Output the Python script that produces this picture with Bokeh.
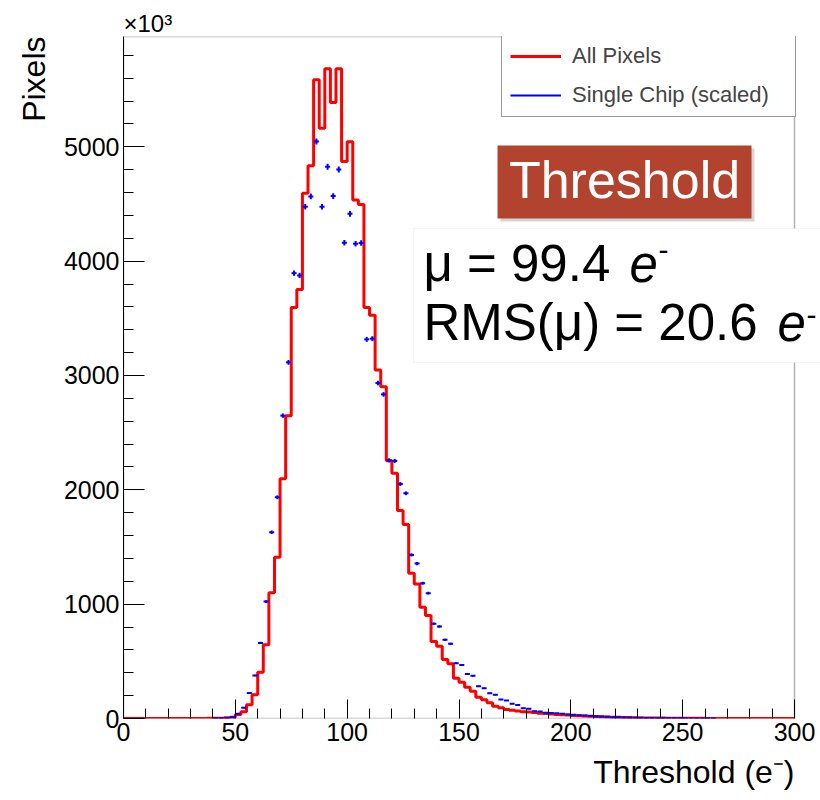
import numpy as np
from bokeh.plotting import figure
from bokeh.models import (Label, BoxAnnotation, Legend, LegendItem, FixedTicker,
                          Range1d, ColumnDataSource, Title)
from bokeh.embed import file_html
from bokeh.resources import INLINE

# ---------------- data ----------------
BIN_LO, BIN_HI, NBINS = 0.0, 300.0, 120

# All pixels histogram (counts per 2.5 e- bin)
all_pixels = [
    0, 0, 0, 0, 0, 0, 0, 0, 0, 0, 0, 0,            # 0 - 27.5
    1, 1, 1, 2, 2, 3, 6, 12,                        # 30 - 47.5
    35, 58, 120, 208, 405, 645, 1099, 1410,         # 50 - 67.5
    2098, 2649, 3595, 3753, 4595, 4834, 5586, 5163,  # 70 - 87.5
    5682, 5388, 5682, 4872, 5044, 4534, 4496, 3595,  # 90 - 107.5
    3528, 3048, 2902, 2255, 2144, 1820, 1696, 1270,  # 110 - 127.5
    1177, 973, 900, 673, 632, 516, 478, 352,         # 130 - 147.5
    317, 274, 239, 186, 163, 137, 108, 93,           # 150 - 167.5
    79, 72, 66, 60, 56, 52, 47, 44,                  # 170 - 187.5
    40, 36, 33, 30, 27, 24, 21, 19,                  # 190 - 207.5
    17, 15, 13, 11, 10, 9, 8, 7,                     # 210 - 227.5
    6, 5, 5, 4, 4, 3, 3, 3,                          # 230 - 247.5
    2, 2, 2, 2, 1, 1, 1, 1,                          # 250 - 267.5
    1, 1, 1, 1, 1, 1, 1, 1,                          # 270 - 287.5
    1, 1, 1, 1,                                      # 290 - 297.5
]

# Single chip (scaled), one value per bin centre
single_chip = [
    0, 0, 0, 0, 0, 0, 0, 0, 0, 0, 0, 0,
    0, 0, 0, 0, 2, 3, 5, 12,
    41, 93, 224, 376, 661, 1023, 1629, 1935,
    2649, 3115, 3895, 3875, 4476, 4566, 5047, 4476,
    4825, 4569, 4802, 4161, 4414, 4152, 4158, 3316,
    3322, 2934, 2835, 2258, 2253, 2051, 1970, 1431,
    1355, 1183, 1096, 828, 804, 688, 653, 484,
    469, 390, 373, 283, 265, 221, 207, 166,
    157, 128, 119, 90, 85, 64, 61, 50,
    48, 45, 42, 36, 33, 29, 26, 22,
    20, 17, 15, 12, 10, 8, 7, 6,
    5, 4, 4, 3, 3, 2, 2, 2,
    1, 1, 1, 1, 1, 1, 0, 0,
    0, 0, 0, 0, 0, 0, 0, 0,
    0, 0, 0, 0,
]

x_ticks = [0, 50, 100, 150, 200, 250, 300]
x_minor = [v for v in range(0, 301, 10) if v % 50]
y_ticks = [0, 1000, 2000, 3000, 4000, 5000]
y_minor = [v for v in range(0, 6000, 200) if v % 1000]
Y_MAX = 5965

legend_labels = ["All Pixels", "Single Chip (scaled)"]
box_title = "Threshold"
stat_mu = "μ = 99.4"
stat_rms = "RMS(μ) = 20.6"
x_title = "Threshold (e⁻)"
y_title = "Pixels"
y_exponent = "×10³"

# ---------------- figure ----------------
W, H = 820, 800
ML, MT, MB = 123, 36, 82
AXIS_W = 671                       # px spanned by BIN_LO..BIN_HI
FB = H - MB                        # frame bottom in canvas px
X_END = BIN_HI * (W - ML) / AXIS_W  # frame runs to the right edge (for the stats text)
BASE_FIX = 0.385                   # label baseline correction (em)

def sx(px):
    return px - ML

def sy(py):
    return FB - py

p = figure(width=W, height=H, output_backend="svg", toolbar_location=None,
           x_range=Range1d(BIN_LO, X_END), y_range=Range1d(0, Y_MAX),
           min_border_left=ML, min_border_right=0, min_border_top=MT,
           min_border_bottom=MB)
p.grid.visible = False
p.outline_line_color = None
p.background_fill_color = "white"
p.border_fill_color = "white"

for ax, ticks, minor, tin in ((p.xaxis[0], x_ticks, x_minor, 19),
                              (p.yaxis[0], y_ticks, y_minor, 21)):
    ax.ticker = FixedTicker(ticks=ticks, minor_ticks=minor)
    ax.major_tick_in = tin
    ax.major_tick_out = 0
    ax.minor_tick_in = 10
    ax.minor_tick_out = 0
    ax.axis_line_color = "black"
    ax.major_tick_line_color = "black"
    ax.minor_tick_line_color = "black"
    ax.major_label_text_font = "Liberation Sans"
    ax.major_label_text_font_size = "25px"
    ax.major_label_text_color = "black"
    ax.major_label_standoff = 4
p.xaxis[0].axis_line_color = None

# frame box over the histogram range
p.add_layout(BoxAnnotation(left=BIN_LO, right=BIN_HI, bottom=0, top=Y_MAX,
                           fill_alpha=0, line_color="black", line_width=1.5))

edges = np.linspace(BIN_LO, BIN_HI, NBINS + 1)
centers = 0.5 * (edges[:-1] + edges[1:])
vals = np.array(all_pixels, dtype=float)
step_y = np.append(vals, vals[-1])

r_red = p.step(x=edges, y=step_y, mode="after", line_color="#ff0000", line_width=3)

sc = np.array(single_chip, dtype=float)
m = sc > 0
cx = centers[m]
cy = sc[m]
err = np.sqrt(cy * 0.14)
half = 0.45 * (edges[1] - edges[0])
src_h = ColumnDataSource(dict(x0=cx - half, x1=cx + half, y=cy))
src_v = ColumnDataSource(dict(x=cx, y0=cy - err, y1=cy + err))
r_blue = p.segment(x0="x0", x1="x1", y0="y", y1="y", source=src_h,
                   line_color="#0000ff", line_width=2)
p.segment(x0="x", x1="x", y0="y0", y1="y1", source=src_v,
          line_color="#0000ff", line_width=2)

legend = Legend(items=[LegendItem(label=legend_labels[0], renderers=[r_red]),
                       LegendItem(label=legend_labels[1], renderers=[r_blue])],
                location=(sx(501), sy(116.7)),
                border_line_color="#333333", border_line_width=1,
                background_fill_color="white", background_fill_alpha=1,
                padding=8, margin=0, spacing=13,
                glyph_width=51, glyph_height=26, label_height=26,
                label_width=215, label_standoff=11,
                label_text_font="Liberation Sans", label_text_font_size="22px")
p.add_layout(legend, "center")

# Threshold tag
p.add_layout(BoxAnnotation(left=sx(500), right=sx(754), top=sy(148), bottom=sy(221),
                           left_units="screen", right_units="screen",
                           top_units="screen", bottom_units="screen",
                           fill_color="#888888", fill_alpha=0.35, line_color=None))
p.add_layout(BoxAnnotation(left=sx(497), right=sx(751), top=sy(145), bottom=sy(218),
                           left_units="screen", right_units="screen",
                           top_units="screen", bottom_units="screen",
                           fill_color="#b2432f", fill_alpha=1, line_color=None))

def lab(text, px, py, size, align="left", style="normal", color="black"):
    p.add_layout(Label(x=sx(px), y=sy(py - BASE_FIX * size), x_units="screen",
                       y_units="screen", text=text, text_align=align,
                       text_baseline="alphabetic", text_font="Liberation Sans",
                       text_font_size=f"{size}px", text_font_style=style,
                       text_color=color))

lab(box_title, 624, 200, 52, align="center", color="white")

# statistics box
p.add_layout(BoxAnnotation(left=sx(413), right=sx(840), top=sy(228), bottom=sy(362),
                           left_units="screen", right_units="screen",
                           top_units="screen", bottom_units="screen",
                           fill_color="white", fill_alpha=1,
                           line_color="#dddddd", line_width=1))

lab(stat_mu, 423, 283, 51)
lab("e", 629, 283, 51, style="italic")
lab("-", 658, 261, 30)
lab(stat_rms, 423, 342, 51)
lab("e", 777, 342, 51, style="italic")
lab("-", 806, 326, 30)

# axis titles and exponent
p.add_layout(Title(text=y_title, align="right", text_font="Liberation Sans",
                   text_font_size="32px", text_font_style="normal",
                   text_color="black", standoff=18), "left")
p.add_layout(Title(text=x_title, align="right", text_font="Liberation Sans",
                   text_font_size="32px", text_font_style="normal",
                   text_color="black", offset=W - ML - AXIS_W, standoff=16), "below")
p.add_layout(Title(text=y_exponent, align="left", text_font="Liberation Sans",
                   text_font_size="24px", text_font_style="normal",
                   text_color="black", standoff=0), "above")

open("out.html", "w").write(file_html(p, INLINE))
